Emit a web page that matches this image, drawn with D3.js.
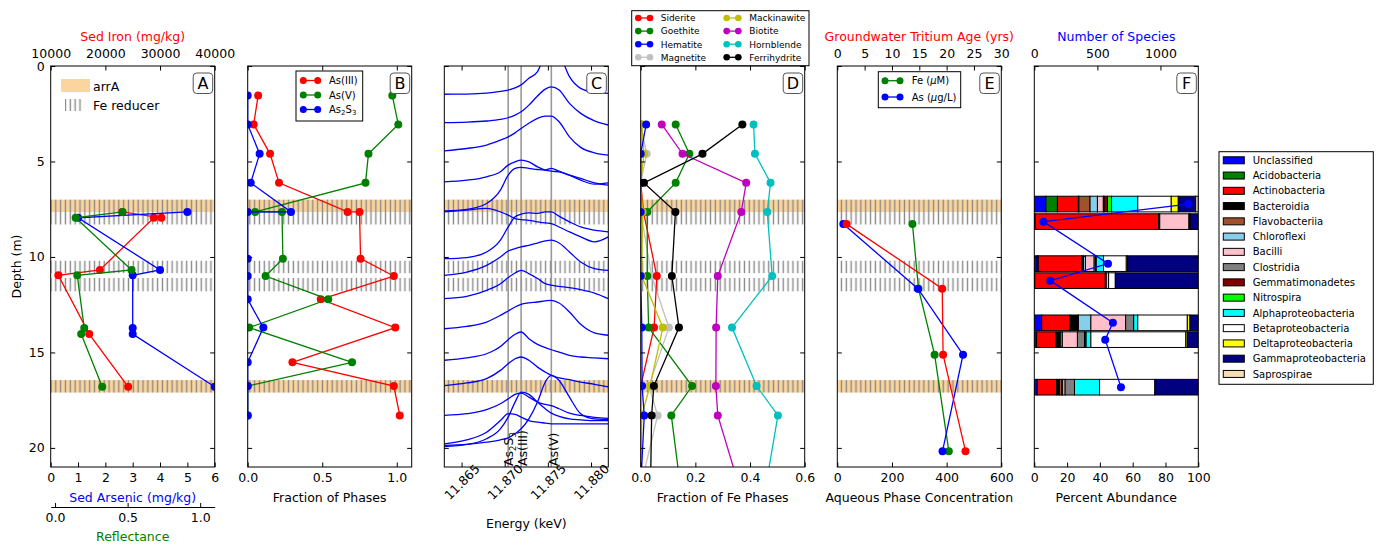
<!DOCTYPE html>
<html>
<head>
<meta charset="utf-8">
<title>Depth profiles</title>
<script src="https://d3js.org/d3.v7.min.js"></script>
<style>
  body { margin: 0; background: #fff; }
  svg text { font-family: "DejaVu Sans", sans-serif; }
</style>
</head>
<body>
<div id="my_dataviz"></div>
<script>

// ---- shared depth axis and shaded zones ----
var depthTicks = [0, 5, 10, 15, 20];
var arrABands = [[7.0, 7.65], [16.45, 17.1]];
var feReducerBands = [[7.0, 8.3], [10.2, 10.85], [11.1, 11.8], [16.45, 17.1]];

// ---- panel A: sediment chemistry ----
var ironDepth = [7.64, 7.95, 7.95, 10.68, 10.96, 14.04, 16.8];
var ironValue = [23100, 30250, 28850, 19000, 11400, 17050, 24170];
var solidDepth = [7.64, 7.95, 10.68, 10.96, 13.72, 14.04, 16.8];
var arsenicValue = [5.0, 1.0, 4.0, 3.0, 3.0, 3.0, 6.0];
var reflectValue = [0.465, 0.142, 0.527, 0.153, 0.201, 0.18, 0.325];

// ---- panel B: As speciation ----
var xasDepth = [1.55, 3.06, 4.6, 6.12, 7.64, 7.64, 10.09, 11.0, 12.22, 13.7, 15.52, 16.76, 18.3];
var as3Frac = [0.07, 0.04, 0.15, 0.21, 0.67, 0.75, 0.757, 0.98, 0.49, 0.99, 0.30, 0.98, 1.02];
var as5Frac = [0.97, 1.01, 0.81, 0.79, 0.05, 0.23, 0.236, 0.12, 0.54, 0.01, 0.70, 0.0, 0.0];
var as2s3Frac = [0.0, 0.0, 0.08, 0.02, 0.29, 0.0, 0.0, 0.0, 0.0, 0.105, 0.0, 0.0, 0.0];

// ---- panel C: XANES spectra (trace height read in depth units) ----
var xanesEnergy = [11.8630, 11.8656, 11.8679, 11.8695, 11.8704, 11.8712, 11.8719, 11.8728,
                   11.8738, 11.8747, 11.8754, 11.8763, 11.8775, 11.8788, 11.8804, 11.8820];
var xanesTraces = [
  [1.48, 1.47, 1.42, 1.33, 1.26, 1.15, 0.99, 0.64, 0.30, -0.67, -1.01, -0.67, 0.56, 1.17, 1.38, 1.43],
  [2.97, 2.94, 2.88, 2.80, 2.71, 2.57, 2.40, 2.05, 1.57, 1.21, 1.09, 1.26, 1.96, 2.48, 2.87, 3.09],
  [4.44, 4.32, 4.14, 3.88, 3.71, 3.50, 3.27, 3.00, 2.74, 2.62, 2.62, 2.92, 3.71, 4.26, 4.55, 4.67],
  [6.07, 5.98, 5.80, 5.54, 5.19, 5.02, 4.93, 5.02, 5.28, 5.45, 5.51, 5.54, 5.72, 5.98, 6.19, 6.12],
  [7.59, 7.51, 7.20, 6.50, 5.72, 5.36, 5.31, 5.36, 5.42, 5.45, 5.36, 5.51, 5.72, 5.89, 6.12, 6.24],
  [7.64, 7.55, 7.46, 7.64, 7.81, 7.99, 8.04, 8.08, 8.16, 8.22, 8.25, 8.43, 8.69, 8.95, 9.21, 8.95],
  [10.09, 10.03, 9.74, 9.12, 8.43, 7.90, 7.76, 7.69, 7.72, 7.64, 7.64, 7.87, 8.16, 8.43, 8.60, 8.69],
  [10.96, 10.79, 10.44, 10.00, 9.69, 9.56, 9.47, 9.39, 9.27, 9.16, 9.12, 9.27, 9.74, 10.26, 10.61, 10.70],
  [12.18, 12.06, 11.75, 11.40, 11.08, 10.84, 10.70, 10.87, 11.13, 11.40, 11.48, 11.54, 11.61, 11.71, 11.89, 12.18],
  [13.76, 13.64, 13.41, 13.06, 12.83, 12.62, 12.48, 12.41, 12.36, 12.30, 12.27, 12.41, 12.88, 13.53, 13.98, 14.10],
  [15.41, 15.28, 15.07, 14.69, 14.33, 14.05, 13.93, 14.28, 14.58, 14.75, 14.86, 14.98, 15.16, 15.24, 15.28, 15.33],
  [16.74, 16.60, 16.37, 15.94, 15.59, 15.33, 15.24, 15.41, 15.77, 16.03, 16.20, 16.33, 16.43, 16.55, 16.67, 16.81],
  [18.30, 18.21, 18.00, 17.69, 17.43, 17.20, 17.13, 17.34, 17.60, 17.72, 17.79, 17.95, 18.18, 18.30, 18.40, 18.45],
  [19.93, 19.82, 19.52, 19.00, 18.39, 17.60, 17.08, 17.20, 17.60, 17.95, 18.18, 18.35, 18.48, 18.53, 18.57, 18.57],
  [19.87, 19.82, 19.70, 19.58, 19.47, 19.26, 19.00, 18.48, 17.60, 16.55, 16.20, 16.47, 17.34, 18.21, 18.48, 18.51],
  [19.79, 19.58, 19.18, 18.57, 18.21, 18.25, 18.39, 18.57, 18.65, 18.70, 18.74, 18.74, 18.74, 18.74, 18.74, 18.74]
];
var refEnergy = [11.8704, 11.8719, 11.8754];

// ---- panel D: Fe phases ----
var feDepth = [3.06, 4.6, 6.12, 7.64, 11.0, 13.7, 16.76, 18.3, 22];
var feNames = ["Siderite", "Goethite", "Hematite", "Magnetite", "Mackinawite", "Biotite", "Hornblende", "Ferrihydrite"];
var feColors = ["#ff0000", "#008000", "#0000ff", "#c0c0c0", "#bfbf00", "#bf00bf", "#00bfbf", "#000000"];
var siderite = [0.0, 0.0, 0.0, 0.01, 0.059, 0.049, 0.0, 0.0, 0.0];
var goethite = [0.128, 0.178, 0.128, 0.024, 0.024, 0.029, 0.188, 0.112, 0.145];
var hematite = [0.02, 0.0, 0.0, 0.0, 0.0, 0.004, 0.005, 0.013, 0.0];
var magnetite = [0.0, 0.022, 0.0, 0.0, 0.04, 0.103, 0.03, 0.062, 0.0];
var mackinawite = [0.004, 0.012, 0.0, 0.007, 0.004, 0.081, 0.034, 0.004, 0.0];
var biotite = [0.077, 0.153, 0.386, 0.368, 0.282, 0.276, 0.275, 0.282, 0.36];
var hornblende = [0.413, 0.418, 0.475, 0.463, 0.481, 0.334, 0.424, 0.502, 0.458];
var ferrihydrite = [0.372, 0.226, 0.012, 0.127, 0.114, 0.14, 0.048, 0.04, 0.036];

// ---- panel E: groundwater ----
var waterDepth = [8.28, 11.66, 15.12, 20.17];
var aqFe = [275, 297, 356, 408];
var aqAs = [22, 295, 460, 385];
var tritiumAge = [1.7, 19.2, 19.35, 23.45];

// ---- panel F: microbial community ----
var taxaNames = ["Unclassified", "Acidobacteria", "Actinobacteria", "Bacteroidia", "Flavobacteriia",
  "Chloroflexi", "Bacilli", "Clostridia", "Gemmatimonadetes", "Nitrospira", "Alphaproteobacteria",
  "Betaproteobacteria", "Deltaproteobacteria", "Gammaproteobacteria", "Saprospirae"];
var taxaColors = ["#0000ff", "#008000", "#ff0000", "#000000", "#a0522d", "#87ceeb", "#ffc0cb",
  "#808080", "#800000", "#00ff00", "#00ffff", "#ffffff", "#ffff00", "#000080", "#f5deb3"];
var barDepth = [7.23, 8.15, 10.35, 11.24, 13.45, 14.33, 16.82];
var barShares = [
  [7.1, 7.0, 12.8, 0.3, 6.8, 4.5, 3.6, 0.5, 2.0, 2.5, 16.0, 20.4, 4.3, 10.6, 1.6],
  [0.5, 0, 75.4, 0.6, 0, 0, 17.8, 0.3, 0.5, 0, 0, 0, 0, 4.9, 0],
  [1.8, 0.6, 26.6, 1.0, 0, 1.2, 5.3, 0.8, 0.5, 0, 4.4, 13.9, 0.8, 43.1, 0],
  [0.3, 0, 43.0, 0.6, 0, 0, 1.4, 0, 0, 0, 0, 4.1, 0, 50.6, 0],
  [4.5, 0, 17.3, 5.1, 0, 7.6, 21.2, 4.9, 0, 0, 2.5, 30.2, 1.6, 5.1, 0],
  [1.4, 0, 11.9, 2.0, 0.8, 1.0, 9.2, 4.3, 1.0, 0, 2.9, 57.9, 0.9, 6.7, 0],
  [1.8, 0, 11.9, 1.6, 1.4, 0.6, 1.5, 5.7, 0, 0, 15.3, 33.7, 0, 26.5, 0]
];
var speciesCount = [1220, 72, 584, 127, 623, 562, 687];

// ---------------------------------------------------------------
var plotTop = 66, plotBottom = 467, panelW = 164;
var panelLeft = [50.7, 247.7, 444.3, 640.7, 837.3, 1034.3];
var arrAColor = "#fbd59d";
var fs = 12.5;

var y = d3.scaleLinear().domain([0, 21]).range([plotTop, plotBottom]);

var svg = d3.select("#my_dataviz").append("svg")
    .attr("width", 1380).attr("height", 547);
var defs = svg.append("defs");

defs.append("pattern").attr("id", "hatch").attr("patternUnits", "userSpaceOnUse")
    .attr("width", 4.85).attr("height", 10)
  .append("line").attr("x1", 2.4).attr("x2", 2.4).attr("y1", 0).attr("y2", 10)
    .attr("stroke", "#8a8a8a").attr("stroke-width", 1.4);

panelLeft.forEach(function(x0, i) {
  defs.append("clipPath").attr("id", "clip" + i).append("rect")
      .attr("x", x0).attr("y", plotTop).attr("width", panelW).attr("height", plotBottom - plotTop);
});

function content(i) {
  return svg.append("g").attr("clip-path", "url(#clip" + i + ")");
}

function drawBands(g, i) {
  var x0 = panelLeft[i];
  arrABands.forEach(function(b) {
    g.append("rect").attr("x", x0).attr("width", panelW)
      .attr("y", y(b[0])).attr("height", y(b[1]) - y(b[0])).attr("fill", arrAColor);
  });
  feReducerBands.forEach(function(b) {
    g.append("rect").attr("x", x0).attr("width", panelW)
      .attr("y", y(b[0])).attr("height", y(b[1]) - y(b[0])).attr("fill", "url(#hatch)");
  });
}

function drawSeries(g, x, depths, values, color) {
  var pts = depths.map(function(d, k) { return [x(values[k]), y(d)]; });
  g.append("path").attr("d", d3.line()(pts))
    .attr("fill", "none").attr("stroke", color).attr("stroke-width", 1.3);
  g.selectAll(null).data(pts).enter().append("circle")
    .attr("cx", function(p) { return p[0]; })
    .attr("cy", function(p) { return p[1]; })
    .attr("r", 4).attr("fill", color);
}

function styleAxis(sel) {
  sel.select(".domain").remove();
  sel.attr("font-size", null).attr("font-family", null);
  sel.selectAll(".tick line").attr("stroke", "#000");
  sel.selectAll(".tick text").attr("font-size", fs).attr("fill", "#000");
}

// frame, ticks on all four sides
function drawAxes(i, xb, bTicks, bFmt, xt, tTicks, tFmt, leftLabels) {
  var x0 = panelLeft[i], x1 = x0 + panelW;
  var g = svg.append("g");
  var ab = d3.axisBottom(xb).tickValues(bTicks).tickSizeInner(-4.5).tickSizeOuter(0).tickPadding(6.5).tickFormat(bFmt);
  var bAxis = g.append("g").attr("transform", "translate(0," + plotBottom + ")").call(ab);
  styleAxis(bAxis);
  var at = d3.axisTop(xt).tickValues(tTicks).tickSizeInner(-4.5).tickSizeOuter(0).tickPadding(8.5).tickFormat(tFmt);
  styleAxis(g.append("g").attr("transform", "translate(0," + plotTop + ")").call(at));
  var al = d3.axisLeft(y).tickValues(depthTicks).tickSizeInner(-4.5).tickSizeOuter(0).tickPadding(6)
    .tickFormat(leftLabels ? d3.format("d") : "");
  styleAxis(g.append("g").attr("transform", "translate(" + x0 + ",0)").call(al));
  var ar = d3.axisRight(y).tickValues(depthTicks).tickSizeInner(-4.5).tickSizeOuter(0).tickFormat("");
  styleAxis(g.append("g").attr("transform", "translate(" + x1 + ",0)").call(ar));
  g.append("rect").attr("x", x0).attr("y", plotTop).attr("width", panelW).attr("height", plotBottom - plotTop)
    .attr("fill", "none").attr("stroke", "#000").attr("stroke-width", 1);
  return bAxis;
}

function letterBox(i, letter) {
  var x1 = panelLeft[i] + panelW;
  svg.append("rect").attr("x", x1 - 21.5).attr("y", 73).attr("width", 19.5).attr("height", 20.5)
    .attr("rx", 3.5).attr("fill", "#fff").attr("stroke", "#555").attr("stroke-width", 1);
  svg.append("text").attr("x", x1 - 11.75).attr("y", 89).attr("text-anchor", "middle")
    .attr("font-size", 16).text(letter);
}

function label(x, yy, txt, color) {
  return svg.append("text").attr("x", x).attr("y", yy).attr("text-anchor", "middle")
    .attr("font-size", fs).attr("fill", color || "#000").text(txt);
}

function mid(i) { return panelLeft[i] + panelW / 2; }

// ---------------- Panel A ----------------
var xAs = d3.scaleLinear().domain([0, 6]).range([panelLeft[0], panelLeft[0] + panelW]);
var xFe = d3.scaleLinear().domain([10000, 40000]).range([panelLeft[0], panelLeft[0] + panelW]);
var xRefl = d3.scaleLinear().domain([-0.03, 1.1]).range([panelLeft[0], panelLeft[0] + panelW]);
var gA = content(0);
drawBands(gA, 0);
drawSeries(gA, xFe, ironDepth, ironValue, "#ff0000");
drawSeries(gA, xAs, solidDepth, arsenicValue, "#0000ff");
drawSeries(gA, xRefl, solidDepth, reflectValue, "#008000");
drawAxes(0, xAs, d3.range(0, 7), d3.format("d"), xFe, [10000, 20000, 30000, 40000], d3.format("d"), true);
letterBox(0, "A");

// legend A
svg.append("rect").attr("x", 61).attr("y", 79).attr("width", 29).attr("height", 13).attr("fill", arrAColor);
svg.append("text").attr("x", 93).attr("y", 91).attr("font-size", fs).text("arrA");
svg.append("rect").attr("x", 65).attr("y", 99).attr("width", 18).attr("height", 12).attr("fill", "url(#hatch)");
svg.append("text").attr("x", 93).attr("y", 110).attr("font-size", fs).text("Fe reducer");

label(mid(0), 41, "Sed Iron (mg/kg)", "#ff0000");
label(mid(0), 502, "Sed Arsenic (mg/kg)", "#0000ff");

// reflectance axis below
var aRefl = d3.axisBottom(xRefl).tickValues([0, 0.5, 1.0]).tickSizeInner(-4).tickSizeOuter(0)
  .tickPadding(6.5).tickFormat(d3.format(".1f"));
var gRefl = svg.append("g").attr("transform", "translate(0,507)").call(aRefl);
gRefl.select(".domain").attr("stroke", "#000");
gRefl.attr("font-size", null).attr("font-family", null);
gRefl.selectAll(".tick text").attr("font-size", fs);
label(mid(0), 541, "Reflectance", "#008000");

svg.append("text").attr("transform", "translate(21," + ((plotTop + plotBottom) / 2) + ") rotate(-90)")
  .attr("text-anchor", "middle").attr("font-size", fs).text("Depth (m)");

// ---------------- Panel B ----------------
var xB = d3.scaleLinear().domain([0, 1.1]).range([panelLeft[1], panelLeft[1] + panelW]);
var gB = content(1);
drawBands(gB, 1);
drawSeries(gB, xB, xasDepth, as3Frac, "#ff0000");
drawSeries(gB, xB, xasDepth, as5Frac, "#008000");
drawSeries(gB, xB, xasDepth, as2s3Frac, "#0000ff");
drawAxes(1, xB, [0, 0.5, 1.0], d3.format(".1f"), xB, [0, 0.5, 1.0], "", false);
letterBox(1, "B");
label(mid(1), 502, "Fraction of Phases");

var legB = svg.append("g");
legB.append("rect").attr("x", 296).attr("y", 71).attr("width", 66.7).attr("height", 50)
  .attr("fill", "#fff").attr("stroke", "#000").attr("stroke-width", 1);
[["As(III)", "#ff0000"], ["As(V)", "#008000"], ["As2S3", "#0000ff"]].forEach(function(e, k) {
  var yy = 80.5 + k * 14.5;
  legB.append("line").attr("x1", 300).attr("x2", 321).attr("y1", yy).attr("y2", yy)
    .attr("stroke", e[1]).attr("stroke-width", 1.3);
  [303.3, 317.7].forEach(function(cx) {
    legB.append("circle").attr("cx", cx).attr("cy", yy).attr("r", 3.5).attr("fill", e[1]);
  });
  var t = legB.append("text").attr("x", 329).attr("y", yy + 3.6).attr("font-size", 10);
  if (e[0] === "As2S3") {
    t.append("tspan").text("As");
    t.append("tspan").attr("font-size", 7).attr("dy", 2).text("2");
    t.append("tspan").attr("dy", -2).text("S");
    t.append("tspan").attr("font-size", 7).attr("dy", 2).text("3");
  } else {
    t.text(e[0]);
  }
});

// ---------------- Panel C ----------------
var xC = d3.scaleLinear().domain([11.863, 11.882]).range([panelLeft[2], panelLeft[2] + panelW]);
var gC = content(2);
drawBands(gC, 2);
refEnergy.forEach(function(e) {
  gC.append("line").attr("x1", xC(e)).attr("x2", xC(e)).attr("y1", plotTop).attr("y2", plotBottom)
    .attr("stroke", "#999").attr("stroke-width", 1.6);
});
var specLine = d3.line().curve(d3.curveMonotoneX)
  .x(function(d) { return xC(d[0]); }).y(function(d) { return y(d[1]); });
xanesTraces.forEach(function(tr) {
  gC.append("path").attr("d", specLine(xanesEnergy.map(function(e, k) { return [e, tr[k]]; })))
    .attr("fill", "none").attr("stroke", "#0000ff").attr("stroke-width", 1.3);
});
var cAxis = drawAxes(2, xC, [11.865, 11.870, 11.875, 11.880], d3.format(".3f"), xC, [11.865, 11.870, 11.875, 11.880], "", false);
cAxis.selectAll(".tick text").attr("y", 0).attr("dy", "0.35em").attr("text-anchor", "middle")
  .attr("transform", "translate(0,15) rotate(-45)");
letterBox(2, "C");
label(mid(2), 528, "Energy (keV)");

// reference labels, rotated, along bottom
var refOffset = [5, 6, 7];
refEnergy.forEach(function(e, k) {
  var t = svg.append("text").attr("transform", "translate(" + (xC(e) + refOffset[k]) + "," + (plotBottom - 1) + ") rotate(-90)")
    .attr("font-size", fs);
  if (k === 0) {
    t.append("tspan").text("As");
    t.append("tspan").attr("font-size", 8.5).attr("dy", 2.5).text("2");
    t.append("tspan").attr("dy", -2.5).text("S");
    t.append("tspan").attr("font-size", 8.5).attr("dy", 2.5).text("3");
  } else {
    t.text(k === 1 ? "As(III)" : "As(V)");
  }
});

// ---------------- Panel D ----------------
var xD = d3.scaleLinear().domain([0, 0.6]).range([panelLeft[3], panelLeft[3] + panelW]);
var gD = content(3);
drawBands(gD, 3);
var feSeries = [siderite, goethite, hematite, magnetite, mackinawite, biotite, hornblende, ferrihydrite];
var feOrder = [3, 0, 1, 4, 2, 5, 6, 7];
feOrder.forEach(function(k) { drawSeries(gD, xD, feDepth, feSeries[k], feColors[k]); });
drawAxes(3, xD, [0, 0.2, 0.4, 0.6], d3.format(".1f"), xD, [0, 0.2, 0.4, 0.6], "", false);
letterBox(3, "D");
label(mid(3), 502, "Fraction of Fe Phases");

var legD = svg.append("g");
legD.append("rect").attr("x", 631.7).attr("y", 10.7).attr("width", 177.3).attr("height", 55)
  .attr("fill", "#fff").attr("stroke", "#000").attr("stroke-width", 1);
feNames.forEach(function(n, k) {
  var col = Math.floor(k / 4), row = k % 4;
  var yy = 18 + row * 13.1;
  var mx = col ? [726.7, 738.3] : [638.3, 650];
  var tx = col ? 749.3 : 660.7;
  legD.append("line").attr("x1", mx[0] - 3).attr("x2", mx[1] + 3).attr("y1", yy).attr("y2", yy)
    .attr("stroke", feColors[k]).attr("stroke-width", 1.3);
  mx.forEach(function(cx) {
    legD.append("circle").attr("cx", cx).attr("cy", yy).attr("r", 3.3).attr("fill", feColors[k]);
  });
  legD.append("text").attr("x", tx).attr("y", yy + 3.3).attr("font-size", 9).text(n);
});

// ---------------- Panel E ----------------
var xAq = d3.scaleLinear().domain([0, 600]).range([panelLeft[4], panelLeft[4] + panelW]);
var xAge = d3.scaleLinear().domain([0, 30]).range([panelLeft[4], panelLeft[4] + panelW]);
var gE = content(4);
drawBands(gE, 4);
drawSeries(gE, xAq, waterDepth, aqFe, "#008000");
drawSeries(gE, xAq, waterDepth, aqAs, "#0000ff");
drawSeries(gE, xAge, waterDepth, tritiumAge, "#ff0000");
drawAxes(4, xAq, [0, 200, 400, 600], d3.format("d"), xAge, d3.range(0, 31, 5), d3.format("d"), false);
letterBox(4, "E");
label(mid(4), 41, "Groundwater Tritium Age (yrs)", "#ff0000");
label(mid(4), 502, "Aqueous Phase Concentration");

var legE = svg.append("g");
legE.append("rect").attr("x", 878.3).attr("y", 71.7).attr("width", 82.4).attr("height", 36)
  .attr("fill", "#fff").attr("stroke", "#000").attr("stroke-width", 1);
[["Fe (", "M)", "#008000"], ["As (", "g/L)", "#0000ff"]].forEach(function(e, k) {
  var yy = 80.7 + k * 16.3;
  legE.append("line").attr("x1", 882).attr("x2", 903).attr("y1", yy).attr("y2", yy)
    .attr("stroke", e[2]).attr("stroke-width", 1.3);
  [885, 900].forEach(function(cx) {
    legE.append("circle").attr("cx", cx).attr("cy", yy).attr("r", 3.5).attr("fill", e[2]);
  });
  var t = legE.append("text").attr("x", 911.7).attr("y", yy + 3.6).attr("font-size", 10);
  t.append("tspan").text(e[0]);
  t.append("tspan").attr("font-style", "italic").text("\u03bc");
  t.append("tspan").text(e[1]);
});

// ---------------- Panel F ----------------
var xPct = d3.scaleLinear().domain([0, 100]).range([panelLeft[5], panelLeft[5] + panelW]);
var xSp = d3.scaleLinear().domain([0, 1300]).range([panelLeft[5], panelLeft[5] + panelW]);
var gF = content(5);
var barH = y(0.82) - y(0);
barShares.forEach(function(row, b) {
  var acc = 0;
  row.forEach(function(v, k) {
    if (v > 0) {
      gF.append("rect").attr("x", xPct(acc)).attr("width", xPct(acc + v) - xPct(acc))
        .attr("y", y(barDepth[b]) - barH / 2).attr("height", barH)
        .attr("fill", taxaColors[k]).attr("stroke", "#000").attr("stroke-width", 1);
    }
    acc += v;
  });
});
drawSeries(gF, xSp, barDepth, speciesCount, "#0000ff");
drawAxes(5, xPct, d3.range(0, 101, 20), d3.format("d"), xSp, [0, 500, 1000], d3.format("d"), false);
letterBox(5, "F");
label(mid(5), 41, "Number of Species", "#0000ff");
label(mid(5), 502, "Percent Abundance");

var legF = svg.append("g");
legF.append("rect").attr("x", 1219).attr("y", 151.7).attr("width", 154.3).attr("height", 232.6)
  .attr("fill", "#fff").attr("stroke", "#000").attr("stroke-width", 1);
taxaNames.forEach(function(n, k) {
  var yy = 160.3 + k * 15.26;
  legF.append("rect").attr("x", 1223.3).attr("y", yy - 3.5).attr("width", 21).attr("height", 7)
    .attr("fill", taxaColors[k]).attr("stroke", "#000").attr("stroke-width", 1);
  legF.append("text").attr("x", 1252.7).attr("y", yy + 3.6).attr("font-size", 10).text(n);
});

</script>
</body>
</html>
